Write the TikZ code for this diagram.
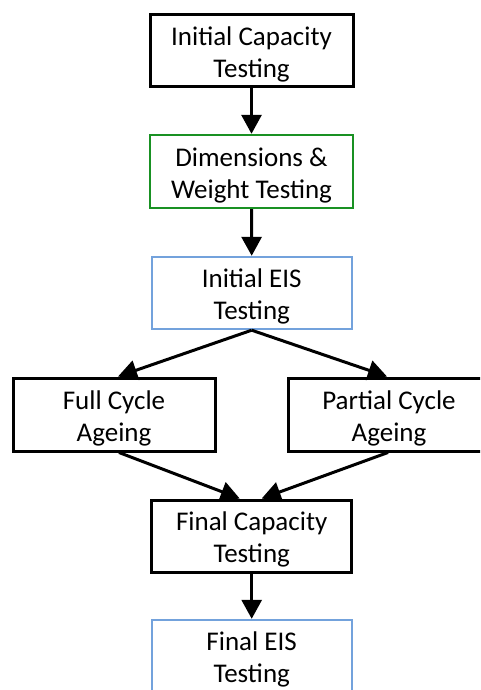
\documentclass[tikz,border=0pt]{standalone}
\usepackage{fontspec}
\setmainfont{Carlito}
\usetikzlibrary{arrows.meta}
\definecolor{boxgreen}{RGB}{25,145,35}
\definecolor{boxblue}{RGB}{115,162,220}
\newcommand{\toppad}{\rule{0pt}{26pt}}
\tikzset{
  stepbox/.style={draw=black, line width=3pt, rectangle, minimum width=200pt, minimum height=72pt,
    align=center, inner sep=0pt, font=\fontsize{27pt}{32pt}\selectfont, fill=white},
  greenbox/.style={stepbox, draw=boxgreen, line width=2.4pt},
  bluebox/.style={stepbox, draw=boxblue, line width=2.4pt},
  flow/.style={line width=3pt, -{Triangle[width=20pt,length=19pt]}}
}
\begin{document}
\begin{tikzpicture}[x=1pt,y=-1pt]
\useasboundingbox (0,0) rectangle (480,690);
\clip (0,0) rectangle (480,690);
\node[stepbox, minimum width=203pt] (b1) at (251.5,51) {\toppad Initial Capacity\\Testing};
\node[greenbox, minimum width=203pt, minimum height=73pt] (b2) at (251.5,171.5) {\toppad Dimensions \&\\Weight Testing};
\node[bluebox] (b3) at (251.7,293) {\toppad Initial EIS\\Testing};
\node[stepbox, minimum width=202pt, minimum height=73pt] (b4) at (114,414.5) {\toppad Full Cycle\\Ageing};
\node[stepbox, minimum width=202pt, minimum height=73pt] (b5) at (389,414.5) {\toppad Partial Cycle\\Ageing};
\node[stepbox] (b6) at (251.7,536) {\toppad Final Capacity\\Testing};
\node[bluebox] (b7) at (251.7,656) {\toppad Final EIS\\Testing};
\draw[flow] (b1.south) -- (b2.north);
\draw[flow] (b2.south) -- (b3.north);
\draw[flow] (b3.south) -- ([xshift=4pt]b4.north);
\draw[flow] (b3.south) -- ([xshift=-2pt]b5.north);
\draw[flow] ([xshift=5pt]b4.south) -- ([xshift=-12pt]b6.north);
\draw[flow] ([xshift=-1pt]b5.south) -- ([xshift=10pt]b6.north);
\draw[flow] (b6.south) -- (b7.north);
\end{tikzpicture}
\end{document}
